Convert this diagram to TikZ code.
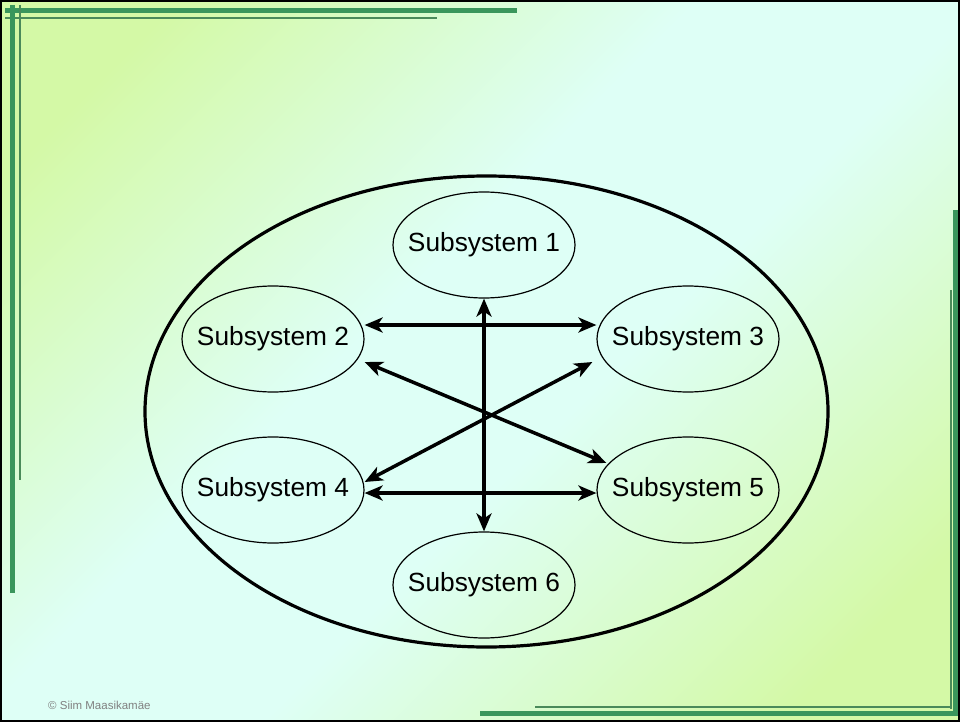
\documentclass[tikz,border=0pt]{standalone}
\usepackage{fontspec}
\setmainfont{Liberation Sans}
\usetikzlibrary{shapes.geometric,arrows.meta}
\definecolor{bgg}{RGB}{212,249,166}
\definecolor{bgc}{RGB}{222,255,246}
\definecolor{barg}{RGB}{58,150,92}
\definecolor{bart}{RGB}{74,138,90}
\pgfdeclareverticalshading{slidebg}{100bp}{color(0bp)=(bgg); color(22bp)=(bgg); color(44bp)=(bgc); color(56bp)=(bgc); color(78bp)=(bgg); color(100bp)=(bgg)}

\begin{document}
\begin{tikzpicture}[x=1pt,y=-1pt,
	every label/.style={font=\fontsize{26.3}{30}\selectfont, inner sep=0pt},
	subsys/.style={draw, ellipse, line width=1.2pt, minimum width=182pt, minimum height=106pt, inner sep=0pt},
	biarrow/.style={{Stealth[length=18pt,width=15pt,inset=5pt]}-{Stealth[length=18pt,width=15pt,inset=5pt]}, line width=3.5pt}]
	\useasboundingbox (0,0) rectangle (960,722);
	\shade[shading=slidebg, shading angle=45] (0,0) rectangle (960,722);
	% green bars round the slide
	\foreach \c/\w/\a/\b in {barg/5/{5,11}/{517,11}, bart/2.5/{5,18}/{437,18}, barg/5/{12,5}/{12,593}, bart/2.5/{20,5}/{20,480},
		barg/5/{955,210}/{955,716}, bart/2.5/{951,290}/{951,709}, barg/5/{480,713}/{956,713}, bart/2.5/{535,707}/{952,707}} {
		\draw[\c, line width=\w pt] (\a) -- (\b);
	}
	\draw[line width=2pt] (1,1) rectangle (959,721);
	\node[draw, ellipse, line width=3.2pt, minimum width=683pt, minimum height=471pt] (sys) at (486.5,411.5) {};
	\foreach \n/\x/\y in {1/484/245, 2/273/339, 3/688/339, 4/273/490, 5/688/490, 6/484/585} {
		\node[subsys, label={[name=t\n]center:Subsystem \n}] (s\n) at (\x,\y) {};
	}
	\draw[biarrow] (s1) -- (s6);
	\draw[biarrow] ([yshift=14pt]s2.east) -- ([yshift=14pt]s3.west);
	\draw[biarrow] ([yshift=-3pt]s4.east) -- ([yshift=-3pt]s5.west);
	\draw[biarrow] ([yshift=-23pt]s2.east) -- ([shift={(10pt,27pt)}]s5.west);
	\draw[biarrow] ([yshift=8pt]s4.east) -- ([shift={(-4pt,-23pt)}]s3.west);
	\node[anchor=base west, text=gray, font=\fontsize{11.5}{13}\selectfont, inner sep=0pt] (copy) at (48,709) {© Siim Maasikamäe};
\end{tikzpicture}
\end{document}
